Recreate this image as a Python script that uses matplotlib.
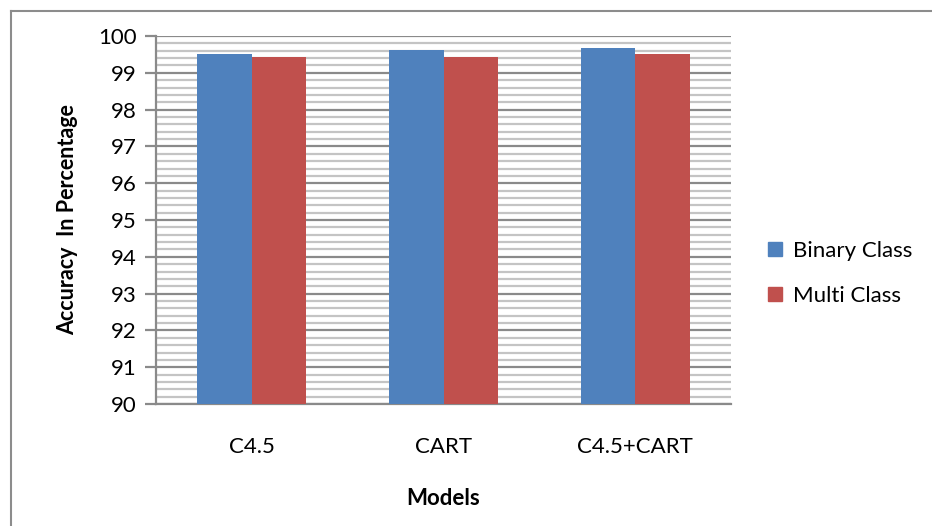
import numpy as np
import matplotlib
matplotlib.use("Agg")
from matplotlib import pyplot as plt
from matplotlib.lines import Line2D
from matplotlib.patches import Patch
from matplotlib.ticker import MultipleLocator

# 数据
models = ["C4.5", "CART", "C4.5+CART"]
binary_class = [99.51, 99.62, 99.67]
multi_class = [99.43, 99.43, 99.51]

plt.rcParams["font.family"] = ["Lato", "DejaVu Sans"]

fig = plt.figure(figsize=(9.32, 5.26), dpi=100)
ax = fig.add_axes([0.1674, 0.2319, 0.617, 0.6996])

# 外框：只看得到左边和上边
fx = 10.5 / 932
fy = 1 - 10.5 / 526
fig.lines.append(Line2D([fx, fx], [-0.1, fy], transform=fig.transFigure,
                        color="#8c8c8c", linewidth=1.5))
fig.lines.append(Line2D([fx, 1.1], [fy, fy], transform=fig.transFigure,
                        color="#8c8c8c", linewidth=1.5))

x = np.arange(len(models))
w = 0.284
blue = "#4F81BD"
red = "#C0504D"
ax.bar(x - w / 2, binary_class, width=w, color=blue, zorder=3)
ax.bar(x + w / 2, multi_class, width=w, color=red, zorder=3)

ax.set_xlim(-0.5, 2.5)
ax.set_ylim(90, 100)
ax.yaxis.set_major_locator(MultipleLocator(1))
ax.yaxis.set_minor_locator(MultipleLocator(0.2))
ax.grid(axis="y", which="major", color="#8a8a8a", linewidth=1.6, zorder=1)
ax.grid(axis="y", which="minor", color="#c4c4c4", linewidth=1.6, zorder=1)
ax.set_axisbelow(True)

for s in ["top", "right"]:
    ax.spines[s].set_visible(False)
ax.spines["left"].set_color("#8a8a8a")
ax.spines["left"].set_linewidth(1.6)
ax.spines["bottom"].set_color("#8a8a8a")
ax.spines["bottom"].set_linewidth(1.6)

ax.tick_params(axis="y", which="major", length=8, width=1.6, color="#8a8a8a",
               labelsize=16, pad=6)
ax.tick_params(axis="y", which="minor", length=0)
ax.tick_params(axis="x", length=0, labelsize=16, pad=24)
ax.set_xticks(x)
ax.set_xticklabels(models)
ax.set_yticks(np.arange(90, 101, 1))
ax.set_yticklabels([str(v) for v in range(90, 101)])

ax.set_ylabel("Accuracy  In Percentage", fontsize=15.5, fontweight="bold", labelpad=14)
ax.set_xlabel("Models", fontsize=16, fontweight="bold", labelpad=22)

handles = [Patch(color=blue, label="Binary Class"),
           Patch(color=red, label="Multi Class")]
ax.legend(handles=handles, loc="center left", bbox_to_anchor=(1.065, 0.355),
          frameon=False, fontsize=16, handlelength=0.6, handleheight=0.6,
          handletextpad=0.5, labelspacing=1.1, borderaxespad=0, borderpad=0)

fig.savefig("out.png", dpi=100)
